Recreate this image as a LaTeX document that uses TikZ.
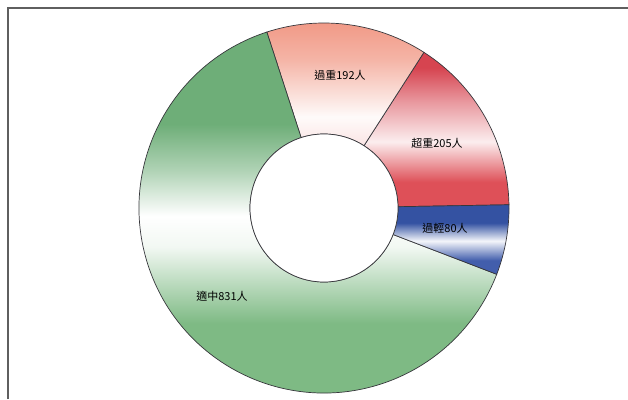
\documentclass[tikz,border=0pt]{standalone}
\usepackage{fontspec}
\newfontfamily\cjk{Noto Sans CJK TC}
\definecolor{frameGray}{RGB}{95,95,95}
\definecolor{rimDark}{RGB}{55,55,60}
\definecolor{greenTop}{RGB}{110,174,120}
\definecolor{greenLow}{RGB}{126,186,132}
\definecolor{pinkTop}{RGB}{240,148,128}
\definecolor{pinkLow}{RGB}{250,228,228}
\definecolor{redTop}{RGB}{214,68,80}
\definecolor{redLow}{RGB}{222,80,88}
\definecolor{blueTop}{RGB}{52,82,162}
\definecolor{blueLow}{RGB}{66,94,172}
% slice bbox runs from 25bp (bottom) to 75bp (top)
\pgfdeclareverticalshading{greenglass}{100bp}{color(0bp)=(greenLow); color(25bp)=(greenLow);
  color(37bp)=(greenLow); color(47bp)=(white!90!greenLow); color(51bp)=(white);
  color(57bp)=(greenTop!55!white); color(63bp)=(greenTop);
  color(75bp)=(greenTop); color(100bp)=(greenTop)}
\pgfdeclareverticalshading{pinkglass}{100bp}{color(0bp)=(pinkLow); color(25bp)=(pinkLow);
  color(36bp)=(white!96!pinkTop); color(58bp)=(pinkTop!70!white); color(75bp)=(pinkTop); color(100bp)=(pinkTop)}
\pgfdeclareverticalshading{redglass}{100bp}{color(0bp)=(redLow); color(25bp)=(redLow);
  color(33bp)=(redLow); color(46bp)=(white!90!redLow); color(59bp)=(redTop!55!white);
  color(70bp)=(redTop); color(100bp)=(redTop)}
\pgfdeclareverticalshading{blueglass}{100bp}{color(0bp)=(blueLow); color(25bp)=(blueLow);
  color(35bp)=(blueLow); color(49bp)=(white!94!blueLow); color(62bp)=(blueTop);
  color(75bp)=(blueTop); color(100bp)=(blueTop)}
\tikzset{
  slice/.style={draw=rimDark, line width=0.7pt},
  tag/.style={font=\cjk\fontsize{11}{13}\selectfont, text=black, inner sep=1pt}
}
\begin{document}
\begin{tikzpicture}[x=1pt, y=1pt]
\useasboundingbox (0,0) rectangle (628,399);
%Frame
\coordinate (frameTL) at (8,391);
\coordinate (frameTR) at (628,391);
\coordinate (frameBL) at (8,0);
\draw[frameGray, line width=1.4pt] (frameBL) -- (frameTL) -- (frameTR);

%Slices
\begin{scope}[shift={(324,191)}]
\draw[slice, shading=redglass]
  (1:185) arc (1:57.3:185) -- (57.3:74) arc (57.3:1:74) -- cycle;
\draw[slice, shading=pinkglass]
  (57.3:185) arc (57.3:108:185) -- (108:74) arc (108:57.3:74) -- cycle;
\draw[slice, shading=greenglass]
  (108:185) arc (108:339:185) -- (339:74) arc (339:108:74) -- cycle;
\draw[slice, shading=blueglass]
  (339:185) arc (339:361:185) -- (361:74) arc (361:339:74) -- cycle;
\draw[slice, fill=white] (0,0) circle (74);
\end{scope}

%Labels
\node[tag] (overweight) at (340,324) {過重192人};
\node[tag] (obese) at (437,256) {超重205人};
\node[tag] (underweight) at (445,171) {過輕80人};
\node[tag] (normal) at (222,103) {適中831人};
\end{tikzpicture}
\end{document}
